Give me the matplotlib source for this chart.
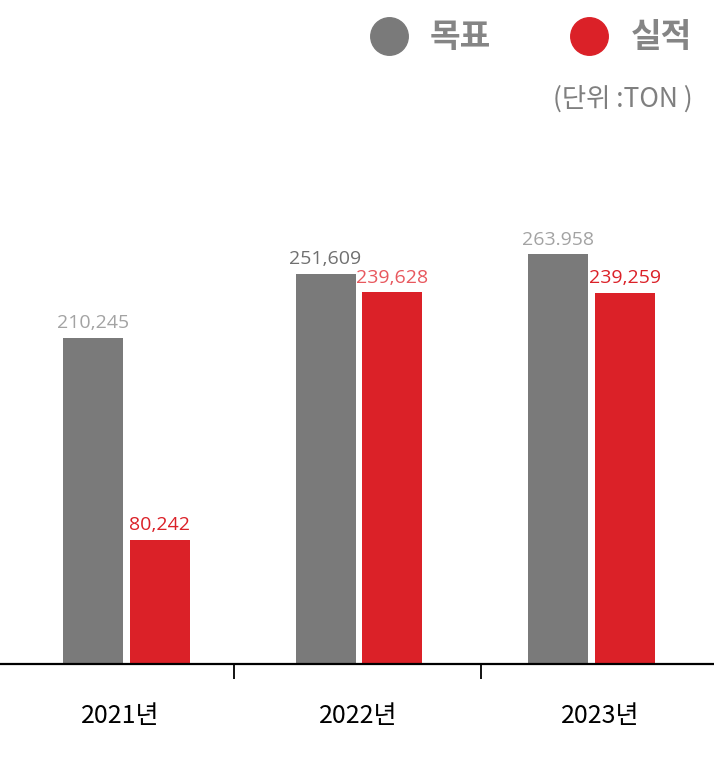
import numpy as np
import matplotlib.pyplot as plt
from matplotlib.ticker import FixedLocator

plt.rcParams['font.family'] = ['Noto Sans CJK KR', 'DejaVu Sans']

years = ['2021년', '2022년', '2023년']
target = [210245, 251609, 263958]
actual = [80242, 239628, 239259]
target_labels = ['210,245', '251,609', '263.958']
actual_labels = ['80,242', '239,628', '239,259']
target_label_colors = ['#a3a3a3', '#707070', '#a3a3a3']
actual_label_colors = ['#db2128', '#e8585e', '#db2128']

gray = '#7a7a7a'
red = '#db2128'

fig = plt.figure(figsize=(7.14, 7.68), dpi=100)
ax = fig.add_axes([0, (768 - 664) / 768, 1, 664 / 768])

x = np.arange(len(years))
w = 0.258
off = 0.144
ax.bar(x - off, target, w, color=gray)
ax.bar(x + off, actual, w, color=red)

for i in range(len(years)):
    ax.annotate(target_labels[i], (x[i] - off, target[i]), xytext=(0, 4),
                textcoords='offset points', ha='center', va='bottom',
                fontsize=14, family=['Open Sans', 'DejaVu Sans'], color=target_label_colors[i])
    ax.annotate(actual_labels[i], (x[i] + off, actual[i]), xytext=(0, 4),
                textcoords='offset points', ha='center', va='bottom',
                fontsize=14, family=['Open Sans', 'DejaVu Sans'], color=actual_label_colors[i])

ax.set_xlim(-126.5 / 232.5, (714 - 126.5) / 232.5)
ax.set_ylim(0, 428000)

for s in ['top', 'left', 'right']:
    ax.spines[s].set_visible(False)
ax.spines['bottom'].set_linewidth(1.6)
ax.set_yticks([])

ax.set_xticks([-0.028, 0.996, 2.037])
ax.set_xticklabels(years, fontsize=18, color='black')
ax.tick_params(axis='x', which='major', length=0, pad=28)
ax.xaxis.set_minor_locator(FixedLocator([0.462, 1.525]))
ax.tick_params(axis='x', which='minor', length=11, width=1.3, color='black')

# legend drawn by hand
ax.plot([389 / 714], [1 - 36 / 768], 'o', ms=27, color=gray, transform=fig.transFigure, clip_on=False)
fig.text(430 / 714, 1 - 38 / 768, '목표', fontsize=24, fontweight='bold', color='#858585', va='center', ha='left')
ax.plot([589 / 714], [1 - 36 / 768], 'o', ms=27, color=red, transform=fig.transFigure, clip_on=False)
fig.text(631 / 714, 1 - 38 / 768, '실적', fontsize=24, fontweight='bold', color='#858585', va='center', ha='left')
fig.text(693 / 714, 1 - 99 / 768, '(단위 :TON )', fontsize=19, color='#7f7f7f', va='center', ha='right')

plt.savefig('out.png')
